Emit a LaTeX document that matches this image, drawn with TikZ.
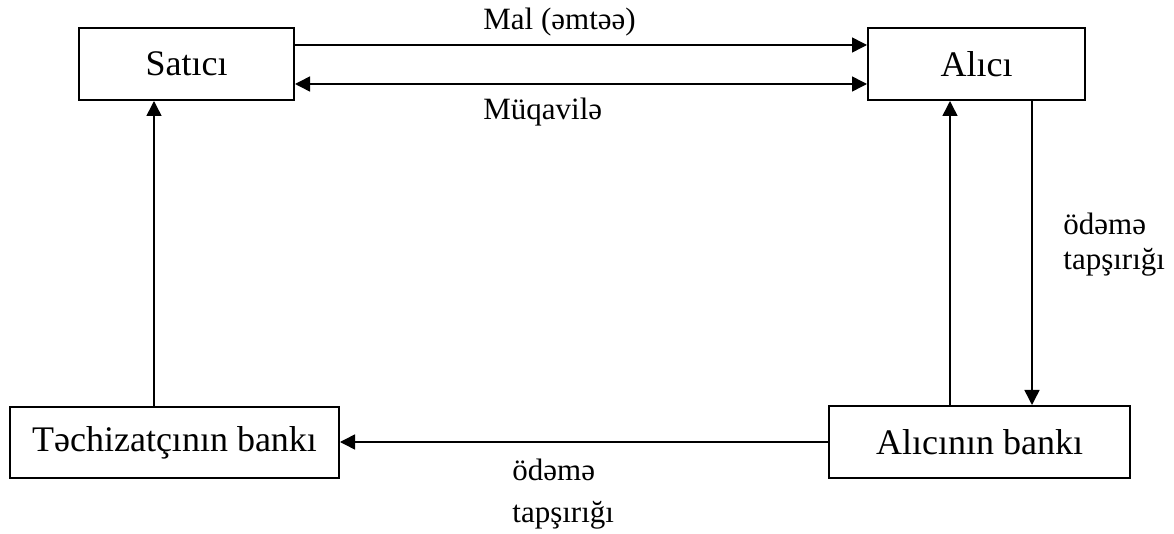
\documentclass[tikz,border=0pt]{standalone}
\usepackage{fontspec}
\setmainfont{Liberation Serif}
\usetikzlibrary{arrows.meta}
\newcommand{\boxline}{1pt}
\newcommand{\arrline}{0.75pt}

\begin{document}
\begin{tikzpicture}[x=0.5pt,y=-0.5pt,
    party/.style={draw, line width=\boxline, minimum height=36pt, inner sep=0pt,
      font=\fontsize{18}{21}\selectfont},
    flow/.style={line width=\arrline, -{Triangle[length=7.5pt,width=7.5pt]}},
    lbl/.style={anchor=base west, inner sep=0pt, align=left,
      font=\fontsize{15.5}{17.5}\selectfont}]
  \useasboundingbox (0,0) rectangle (1174,534);
  %\draw[help lines] (0,0) grid[step=50] (1174,534);
  \node[party, minimum width=107.5pt] (sat) at (186.5,64) {Satıcı};
  \node[party, minimum width=108.5pt] (al) at (976.5,64) {Alıcı};
  \node[party, minimum width=164.5pt, minimum height=35.5pt] (tb) at (174.5,442.5) {Təchizatçının bankı};
  \node[party, minimum width=150.5pt] (ab) at (979.5,442) {Alıcının bankı};

  % goods and contract
  \draw[flow] ([yshift=9.5pt]sat.east) -- ([yshift=9.5pt]al.west);
  \draw[flow, {Triangle[length=7.5pt,width=7.5pt]}-{Triangle[length=7.5pt,width=7.5pt]}]
    ([yshift=-10pt]sat.east) -- ([yshift=-10pt]al.west);
  \node[lbl] (mal) at (483,30) {Mal (əmtəə)};
  \node[lbl] (muq) at (483,120) {Müqavilə};

  % payment order (base anchor sits on the last line)
  \draw[flow] ([xshift=27.75pt]al.south) -- ([xshift=27.75pt]al.south |- ab.north);
  \draw[flow] ([xshift=-14.75pt]ab.north) -- ([xshift=-14.75pt]ab.north |- al.south);
  \draw[flow] (ab.west) -- (ab.west -| tb.east);
  \draw[flow] ([xshift=-10.25pt]tb.north) -- ([xshift=-10.25pt]tb.north |- sat.south);
  \node[lbl] (odr) at (1063,270) {ödəmə\\tapşırığı};
  \node[lbl] (odb) at (512,523) {ödəmə\\[3.5pt]tapşırığı};
\end{tikzpicture}
\end{document}
